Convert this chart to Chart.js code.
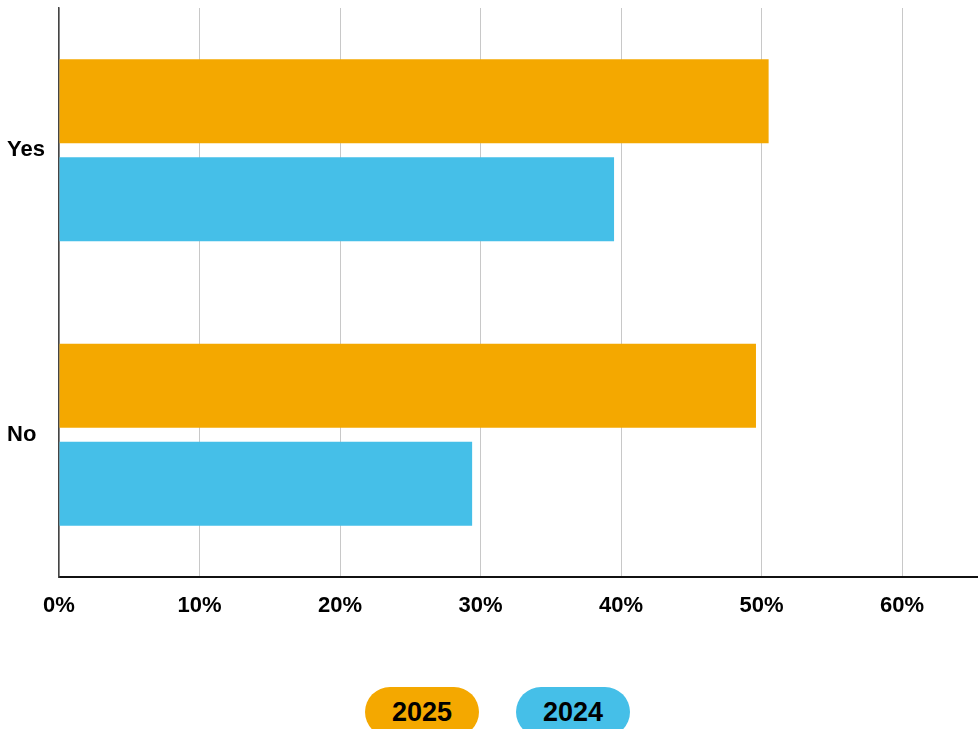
<!DOCTYPE html>
<html>
<head>
<meta charset="utf-8">
<title>Yes / No</title>
<script src="https://cdn.jsdelivr.net/npm/chart.js@4.4.1/dist/chart.umd.min.js"></script>
<style>
    body {
        margin: 0;
        width: 978px;
        height: 729px;
        overflow: hidden;
        background: #fff;
        font-family: "Liberation Sans", Arial, sans-serif;
    }
    #chartBox {
        position: relative;
        width: 978px;
        height: 650px;
    }
    #legend {
        position: absolute;
        left: 365px;
        top: 687px;
        display: flex;
        gap: 37px;
    }
    .pill {
        width: 114px;
        height: 50px;
        border-radius: 25px;
        display: flex;
        align-items: center;
        justify-content: center;
        font-weight: bold;
        font-size: 27px;
        color: #000;
    }
</style>
</head>
<body>
<div id="chartBox"><canvas id="answerChart"></canvas></div>
<div id="legend"></div>

<script>
const categories = ['Yes', 'No'];
const seriesNames = ['2025', '2024'];
const values2025 = [50.5, 49.6];
const values2024 = [39.5, 29.4];
const seriesColors = ['#F4A800', '#45BFE8'];

const tickFont = { family: '"Liberation Sans", Arial, sans-serif', size: 22, weight: 'bold' };

const chartData = {
    labels: categories,
    datasets: [
        { label: seriesNames[0], data: values2025, backgroundColor: seriesColors[0] },
        { label: seriesNames[1], data: values2024, backgroundColor: seriesColors[1] }
    ]
};

const answerChart = new Chart(document.getElementById('answerChart'), {
    type: 'bar',
    data: chartData,
    options: {
        indexAxis: 'y',
        responsive: true,
        maintainAspectRatio: false,
        animation: false,
        layout: { padding: { top: 8, left: 7, right: 0, bottom: 0 } },
        datasets: {
            bar: { categoryPercentage: 0.689, barPercentage: 0.857, borderWidth: 0 }
        },
        plugins: {
            legend: { display: false },
            tooltip: { enabled: false }
        },
        scales: {
            x: {
                type: 'linear',
                min: 0,
                max: 65.4,
                grid: { color: '#c8c8c8', lineWidth: 1, drawTicks: false },
                border: { color: '#111', width: 2 },
                ticks: {
                    stepSize: 10,
                    includeBounds: false,
                    padding: 16,
                    color: '#000',
                    font: tickFont,
                    callback: function (value) { return value + '%'; }
                },
                afterFit: function (scale) { scale.height = 73; }
            },
            y: {
                grid: { display: false },
                border: { color: '#444', width: 1.5 },
                ticks: {
                    crossAlign: 'far',
                    color: '#000',
                    font: tickFont
                },
                afterFit: function (scale) {
                    scale.width = 52;
                    // labels sit at category centres, no extra room needed above/below
                    scale.paddingTop = 0;
                    scale.paddingBottom = 0;
                }
            }
        }
    }
});

// pill legend under the chart, built from the datasets
const legendBox = document.getElementById('legend');
answerChart.data.datasets.forEach(function (ds) {
    const pill = document.createElement('div');
    pill.className = 'pill';
    pill.style.background = ds.backgroundColor;
    pill.textContent = ds.label;
    legendBox.appendChild(pill);
});
</script>
</body>
</html>
